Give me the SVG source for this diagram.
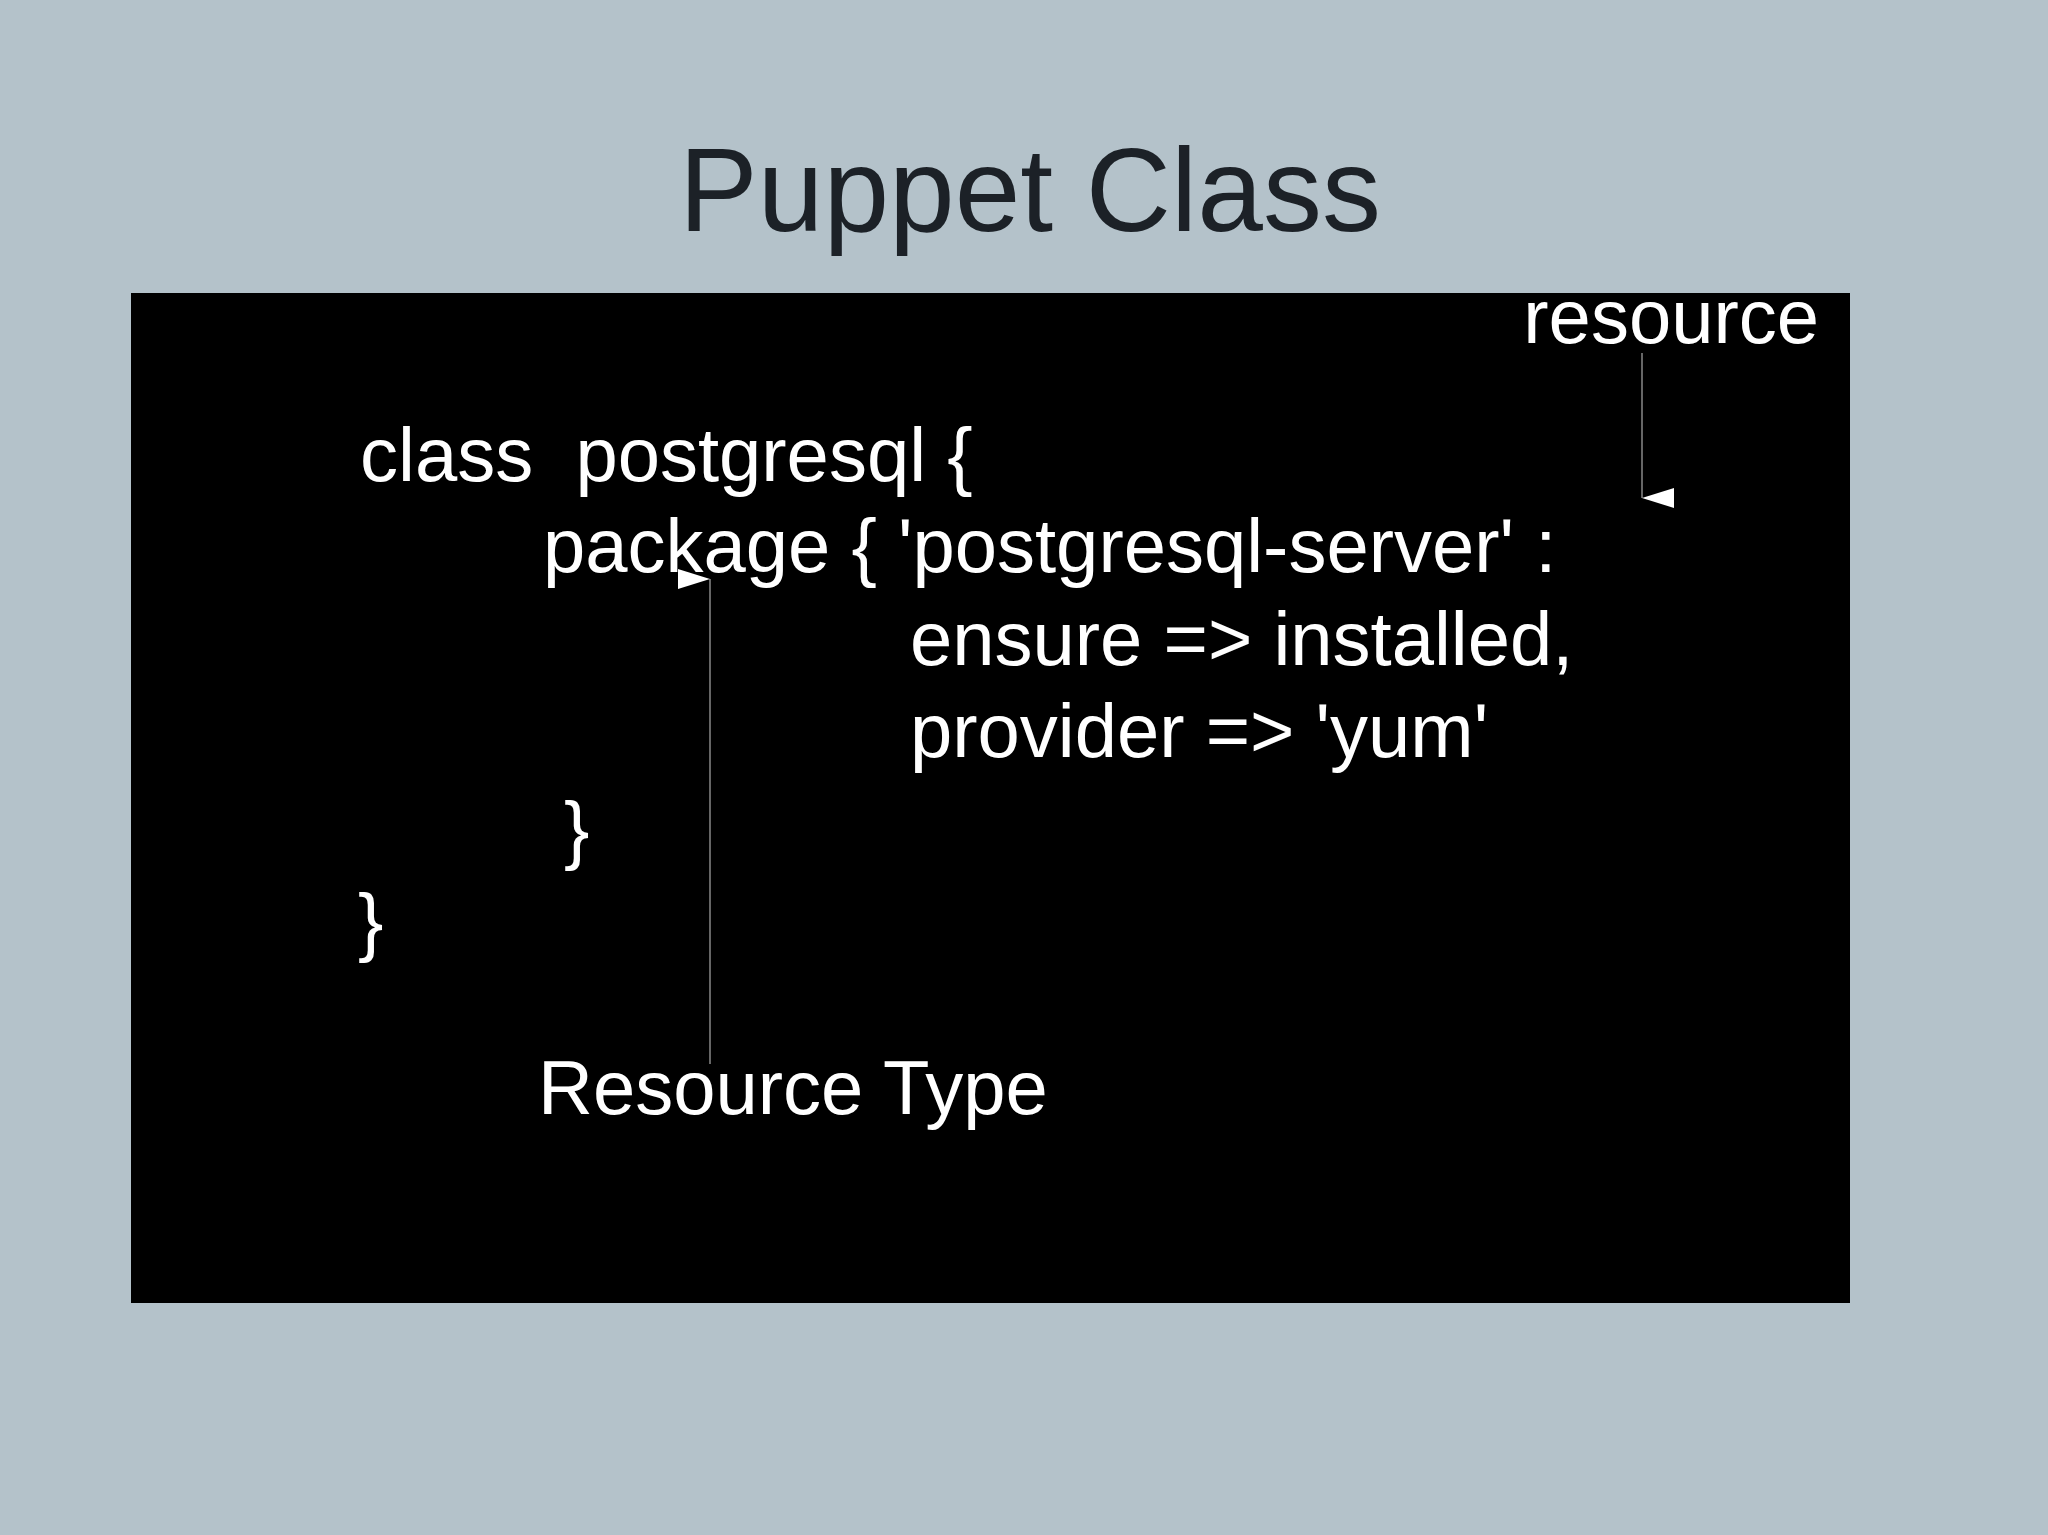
<svg xmlns="http://www.w3.org/2000/svg" width="2048" height="1535" viewBox="0 0 2048 1535">
<style>
.c{font-family:"Liberation Sans",Arial,sans-serif;font-size:76px;fill:#fff}
.l{stroke:#888;stroke-width:1.5;fill:none}
</style>
<defs><marker id="a" markerWidth="24" markerHeight="34" refX="12" refY="32" orient="auto-start-reverse" markerUnits="userSpaceOnUse" viewBox="0 0 24 34"><path d="M2,0 L22,0 L12,32 Z" fill="#fff"/></marker></defs>
<rect width="2048" height="1535" fill="#b4c2ca"/>
<text x="1030" y="231" text-anchor="middle" font-family="Liberation Sans,Arial,sans-serif" font-size="118" fill="#1c2127">Puppet Class</text>
<rect x="131" y="293" width="1719" height="1010" fill="#000"/>
<g id="code">
<text class="c" x="360" y="481" xml:space="preserve">class  postgresql {</text>
<text class="c" x="543" y="572">package { 'postgresql-server' :</text>
<text class="c" x="910" y="665">ensure =&gt; installed,</text>
<text class="c" x="910" y="757">provider =&gt; 'yum'</text>
<text class="c" x="564" y="855">}</text>
<text class="c" x="358" y="947">}</text>
</g>
<g id="resource"><text class="c" x="1819" y="343" text-anchor="end">resource</text></g>
<g id="resourcetype"><text class="c" x="538" y="1114">Resource Type</text></g>
<g id="connectors">
<line class="l" x1="1642" y1="353" x2="1642" y2="498" marker-end="url(#a)"/>
<line class="l" x1="710" y1="1064" x2="710" y2="579" marker-end="url(#a)"/>
</g>
</svg>
